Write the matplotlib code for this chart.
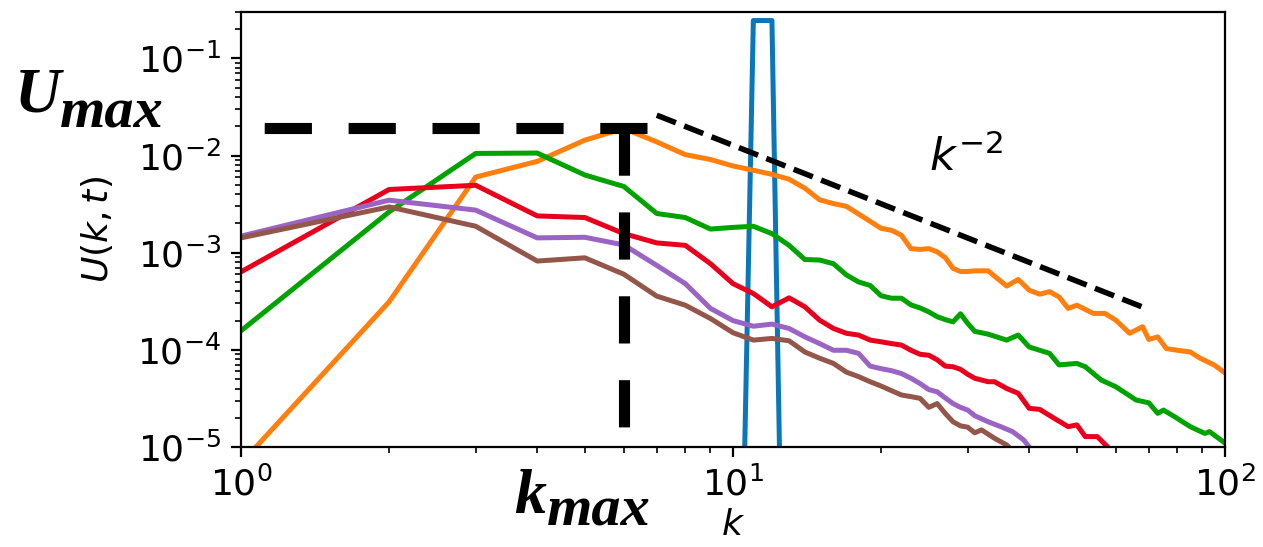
#!/usr/bin/env python
"""energy spectrum U(k,t) at several times, log-log, with k_max / U_max marks"""

import numpy as np
import matplotlib.pyplot as plt

###########
## DATA  ##
###########
k_lo = np.arange(1, 32)

# initial condition: narrow shell at k=11,12
k_blue = [10, 11, 12, 13]
U_blue = [1e-11, 0.245, 0.245, 2.5e-11]

k_orange = list(k_lo) + [33, 36, 38, 40, 42, 44, 46, 48, 50, 54, 57, 60, 64, 68,
                         70, 73, 76, 80, 85, 89, 95, 100]
U_orange = [6.8e-6, 3.12e-4, 6.0e-3, 8.7e-3, 1.44e-2, 1.9e-2, 1.38e-2, 1.02e-2,
            9.1e-3, 7.8e-3, 7.05e-3, 6.4e-3, 5.7e-3, 4.6e-3, 3.5e-3, 3.2e-3,
            3.0e-3, 2.5e-3, 2.1e-3, 1.78e-3, 1.70e-3, 1.51e-3, 1.10e-3, 1.08e-3,
            1.10e-3, 1.02e-3, 8.9e-4, 6.9e-4, 6.4e-4, 6.4e-4, 6.5e-4,
            6.5e-4, 4.53e-4, 5.3e-4, 4.11e-4, 3.74e-4, 3.97e-4, 3.5e-4, 2.67e-4,
            2.88e-4, 2.37e-4, 2.37e-4, 2.02e-4, 1.48e-4, 1.73e-4, 1.28e-4,
            1.36e-4, 1.03e-4, 9.9e-5, 9.5e-5, 8.2e-5, 7.0e-5, 5.8e-5]

k_green = list(k_lo) + [33, 36, 38, 40, 44, 46, 50, 52, 56, 60, 66, 70, 73, 75,
                        79, 85, 91, 93, 100]
U_green = [1.57e-4, 2.63e-3, 1.05e-2, 1.06e-2, 6.3e-3, 4.8e-3, 2.53e-3, 2.30e-3,
           1.75e-3, 1.82e-3, 1.87e-3, 1.57e-3, 1.19e-3, 8.5e-4, 8.4e-4, 7.7e-4,
           5.9e-4, 5.0e-4, 4.6e-4, 3.6e-4, 3.4e-4, 3.4e-4, 2.9e-4, 2.7e-4,
           2.46e-4, 2.19e-4, 2.05e-4, 1.94e-4, 2.35e-4, 1.87e-4, 1.55e-4,
           1.45e-4, 1.26e-4, 1.42e-4, 1.07e-4, 9.2e-5, 7.0e-5, 7.25e-5, 6.7e-5,
           4.9e-5, 4.17e-5, 3.04e-5, 2.85e-5, 2.22e-5, 2.4e-5, 2.05e-5, 1.62e-5,
           1.38e-5, 1.44e-5, 1.1e-5]

k_red = list(k_lo) + [33, 34, 36, 38, 40, 42, 45, 48, 50, 52, 55, 58, 60]
U_red = [6.35e-4, 4.47e-3, 4.94e-3, 2.39e-3, 2.30e-3, 1.57e-3, 1.26e-3, 1.19e-3,
         7.7e-4, 4.8e-4, 3.8e-4, 2.77e-4, 3.43e-4, 2.77e-4, 2.02e-4, 1.66e-4,
         1.48e-4, 1.42e-4, 1.26e-4, 1.21e-4, 1.16e-4, 1.12e-4, 9.9e-5, 9.0e-5,
         8.8e-5, 7.9e-5, 6.8e-5, 6.7e-5, 6.3e-5, 5.6e-5, 5.1e-5,
         4.7e-5, 4.7e-5, 4.0e-5, 3.57e-5, 2.5e-5, 2.44e-5, 1.97e-5, 1.62e-5,
         1.69e-5, 1.28e-5, 1.28e-5, 9.8e-6, 8e-6]

k_purple = list(k_lo) + [33, 35, 37, 39, 40, 42]
U_purple = [1.48e-3, 3.47e-3, 2.74e-3, 1.42e-3, 1.44e-3, 1.2e-3, 7.4e-4, 4.8e-4,
            2.67e-4, 2.0e-4, 1.75e-4, 1.84e-4, 1.66e-4, 1.36e-4, 1.16e-4, 9.9e-5,
            9.9e-5, 9.2e-5, 6.8e-5, 6.4e-5, 6.1e-5, 5.7e-5, 5.1e-5, 4.5e-5,
            3.9e-5, 3.7e-5, 3.2e-5, 2.8e-5, 2.56e-5, 2.4e-5, 2.1e-5,
            1.82e-5, 1.62e-5, 1.44e-5, 1.18e-5, 1.0e-5, 8e-6]

k_brown = list(k_lo) + [32, 34, 36, 38]
U_brown = [1.42e-3, 2.96e-3, 1.87e-3, 8.2e-4, 8.85e-4, 6.0e-4, 3.57e-4, 2.88e-4,
           2.1e-4, 1.5e-4, 1.26e-4, 1.31e-4, 1.24e-4, 9.5e-5, 8.2e-5, 7.25e-5,
           5.9e-5, 5.3e-5, 4.7e-5, 4.24e-5, 3.8e-5, 3.43e-5, 3.3e-5, 3.17e-5,
           2.56e-5, 2.8e-5, 2.22e-5, 1.82e-5, 1.65e-5, 1.6e-5, 1.4e-5,
           1.5e-5, 1.23e-5, 1.05e-5, 8e-6]

# peak markers
k_max = 6.0
k_hline_end = 6.69
U_max = 0.019

# k^-2 guide
k_guide = [7., 68.]
guide_amp = 1.274

###########
## PLOTS ##
###########
fig = plt.figure(figsize=(6.315, 2.735), dpi=200)
ax = fig.add_axes([0.1908, 0.1828, 0.7791, 0.7953])

lw = 1.8
ax.plot(k_blue, U_blue, color='#0a77bb', lw=lw)
ax.plot(k_orange, U_orange, color='#ff7f0e', lw=lw)
ax.plot(k_green, U_green, color='#00a300', lw=lw)
ax.plot(k_red, U_red, color='#e8001c', lw=lw)
ax.plot(k_purple, U_purple, color='#9b64c4', lw=lw)
ax.plot(k_brown, U_brown, color='#935649', lw=lw)

# k^-2 slope
kg = np.array(k_guide)
ax.plot(kg, guide_amp * kg**-2., 'k--', lw=2)
ax.text(25., 7.0e-3, r'$k^{-2}$', fontsize=16)

# U_max / k_max marks (drawn from the corner outward)
ax.plot([k_hline_end, 1.], [U_max, U_max], color='k', lw=4, dashes=(4.25, 3.3))
ax.plot([k_max, k_max], [U_max, 1e-5], color='k', lw=4, dashes=(4.25, 3.3))

ax.set_xscale('log')
ax.set_yscale('log')
ax.set_xlim(1., 100.)
ax.set_ylim(1e-5, 0.3)
ax.tick_params(labelsize=13)
ax.set_xlabel(r'$k$', fontsize=13, labelpad=2)
ax.set_ylabel(r'$U(k,t)$', fontsize=13, labelpad=8)

bi = dict(family='Liberation Serif', weight='bold', style='italic',
          va='baseline', ha='left')
fig.text(15/1263, 1 - 112/547, 'U', fontsize=23, **bi)
fig.text(60/1263, 1 - 127/547, 'max', fontsize=21, **bi)
fig.text(514/1263, 1 - 513/547, 'k', fontsize=23, **bi)
fig.text(547/1263, 1 - 525/547, 'max', fontsize=21, **bi)

fig.savefig('out.png', dpi=200)
